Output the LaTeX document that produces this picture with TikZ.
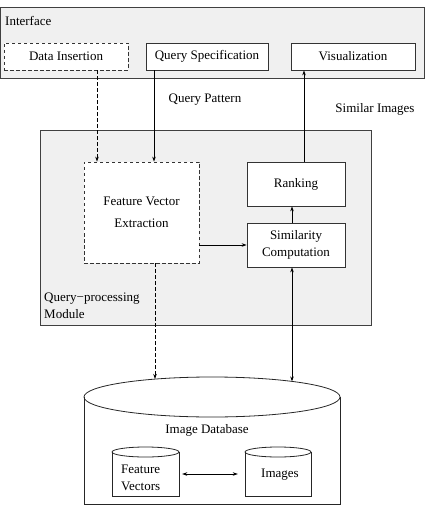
\documentclass[tikz,border=0pt]{standalone}
\usepackage{fontspec}
\setmainfont{Liberation Serif}
\usetikzlibrary{arrows.meta}
\tikzset{
  txt/.style={font=\fontsize{13}{16.5}\selectfont, inner sep=0pt},
  box/.style={txt, draw=black!80, fill=white, line width=0.8pt, minimum height=27pt},
  dbox/.style={box, dash pattern=on 3.5pt off 2.5pt},
  frame/.style={draw=black!75, fill=black!6, line width=0.8pt, inner sep=0pt},
  arr/.style={-{Stealth[length=5pt,width=3.5pt]}, line width=0.7pt},
  darr/.style={{Stealth[length=5pt,width=3.5pt]}-{Stealth[length=5pt,width=3.5pt]}, line width=0.7pt},
  dashline/.style={dash pattern=on 3.5pt off 2.5pt},
  db/.style={draw=black!85, line width=0.8pt},
}
\begin{document}
\begin{tikzpicture}[x=1pt,y=-1pt]
\useasboundingbox (0,0) rectangle (428,510);
% interface
\node[frame, minimum width=424pt, minimum height=71pt] (iface) at (212,42.5) {};
\node[txt, anchor=west] (ilabel) at (5,21) {Interface};
\node[dbox, minimum width=124pt] (ins) at (66,56.5) {Data Insertion};
\node[box, minimum width=122pt] (qspec) at (207,56.5) {Query Specification};
\node[box, minimum width=124pt] (vis) at (353,56.5) {Visualization};
\node[txt] (qpat) at (205,100) {Query Pattern};
\node[txt] (simimg) at (375,109) {Similar Images};
% query-processing module
\node[frame, minimum width=331pt, minimum height=195pt] (qpm) at (205.5,227.5) {};
\node[txt, anchor=west, align=left] (qlabel) at (44,306) {Query−processing\\Module};
\node[dbox, minimum width=115pt, minimum height=101pt, align=center,
      font=\fontsize{13}{22}\selectfont] (fve) at (141.5,212.5) {Feature Vector\\Extraction};
\node[box, minimum width=98pt, minimum height=44pt] (rank) at (296,184) {Ranking};
\node[box, minimum width=98pt, minimum height=44pt, align=center] (sim) at (296,245) {Similarity\\Computation};
\draw[arr, dashline] ([xshift=-44.5pt]fve.north |- ins.south) -- ([xshift=-44.5pt]fve.north);
\draw[arr] ([xshift=12.5pt]fve.north |- qspec.south) -- ([xshift=12.5pt]fve.north);
\draw[arr] (sim.west -| fve.east) -- (sim.west);
\draw[arr] ([xshift=-4pt]sim.north) -- ([xshift=-4pt]rank.south);
\draw[arr] ([xshift=8pt]rank.north) -- ([xshift=8pt]rank.north |- vis.south);
% image database
\draw[db] (84,397) -- (84,504) -- (340,504) -- (340,397);
\draw[db] (212,397) ellipse [x radius=128, y radius=20];
\coordinate (dbin) at (155,379);
\coordinate (dbio) at (292,381.4);
\draw[arr, dashline] (fve.south -| dbin) -- (dbin);
\draw[darr] (sim.south -| dbio) -- (dbio);
\node[txt] (dblabel) at (207,430) {Image Database};
% feature vectors / images
\draw[db] (112,452) -- (112,496) -- (179,496) -- (179,452);
\draw[db] (145.5,452) ellipse [x radius=33.5, y radius=5];
\draw[db] (245,452) -- (245,496) -- (311,496) -- (311,452);
\draw[db] (278,452) ellipse [x radius=33, y radius=5];
\node[minimum width=67pt, minimum height=44pt, inner sep=0pt] (fvcyl) at (145.5,474) {};
\node[minimum width=66pt, minimum height=44pt, inner sep=0pt] (imcyl) at (278,474) {};
\node[txt, anchor=west, align=left] (fvtxt) at (121,478) {Feature\\Vectors};
\node[txt] (imtxt) at (280,475) {Images};
\draw[darr] ([xshift=3pt]fvcyl.east) -- ([xshift=-7pt]imcyl.west);
\end{tikzpicture}
\end{document}
